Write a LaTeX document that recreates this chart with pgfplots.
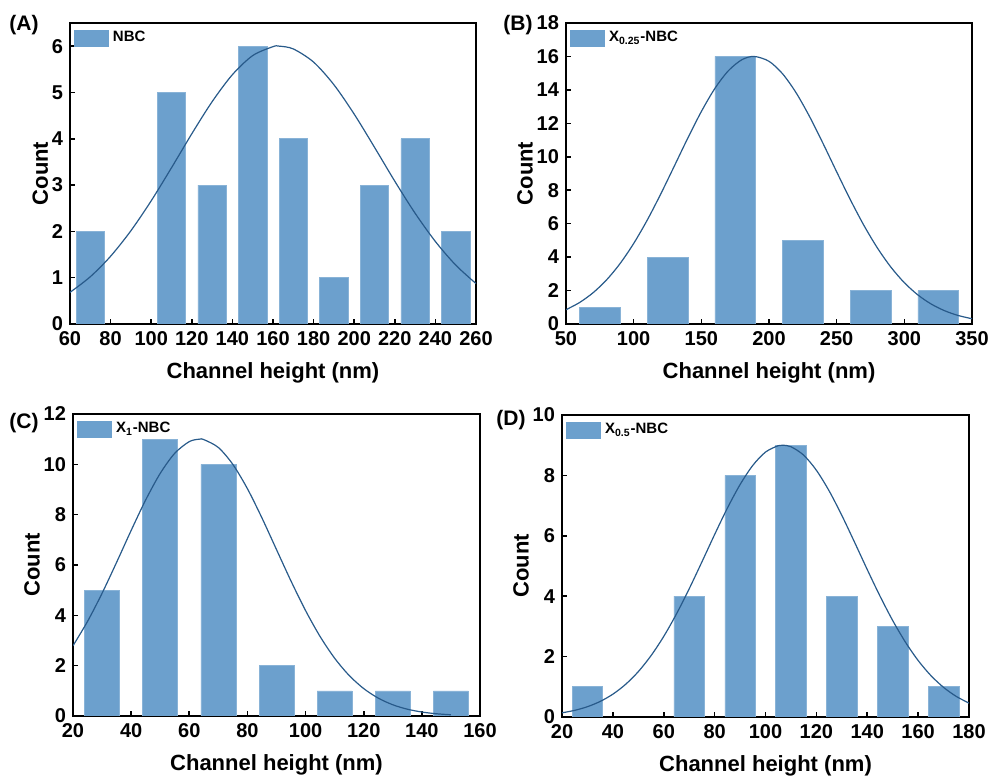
\documentclass[border=0pt]{standalone}
\usepackage{fontspec}
\setmainfont{Liberation Sans}
\usepackage{pgfplots}
\pgfplotsset{compat=1.18}

\definecolor{barblue}{RGB}{108,160,205}
\definecolor{fitblue}{RGB}{40,90,138}

\pgfplotsset{
  hist/.style={
    scale only axis,
    axis line style={line width=1pt},
    tick align=inside,
    xtick pos=bottom, ytick pos=left,
    major tick length=2.5pt,
    tick style={line width=0.8pt, black},
    ymin=0,
    /pgf/number format/assume math mode=true,
    tick label style={font=\fontsize{10}{12}\selectfont\bfseries},
    label style={font=\fontsize{11}{13}\selectfont\bfseries},
    xlabel={Channel height (nm)},
    ylabel={Count},
    xlabel shift=2pt,
    ylabel shift=-5pt,
    legend style={at={(rel axis cs:0,1)}, anchor=north west, draw=none, fill=none,
      font=\fontsize{7.5}{9}\selectfont\bfseries, inner sep=1pt, xshift=1pt, yshift=-1pt},
    legend cell align=left,
    legend image code/.code={\fill[barblue] (0pt,-4pt) rectangle (17pt,4pt);},
  },
  bars/.style={ybar, bar shift=0pt, fill=barblue, draw=barblue!80!white, line width=0.3pt},
  fit/.style={fitblue, line width=0.6pt, smooth, no markers},
}

\begin{document}
\begin{tikzpicture}
\path[use as bounding box] (0,0) rectangle (496pt,-389.5pt);

% (A)
\begin{axis}[hist, at={(35pt,-162pt)}, anchor=south west, width=203pt, height=150.5pt,
  xmin=60, xmax=260, ymax=6.5, xtick={60,80,...,260}, ytick={0,1,...,6}]
\addplot[bars, bar width=14] coordinates {(70,2)(110,5)(130,3)(150,6)(170,4)(190,1)(210,3)(230,4)(250,2)};
\addlegendentry{NBC}
\addplot[fit, forget plot] coordinates {
(60,0.683)(70,1.020)(80,1.463)(90,2.014)(100,2.660)(110,3.374)(120,4.108)(130,4.800)
(140,5.384)(150,5.796)(160,5.989)(163,6.0)(170,5.940)(180,5.655)(190,5.167)(200,4.532)
(210,3.816)(220,3.083)(230,2.392)(240,1.781)(250,1.273)(260,0.873)};
\end{axis}

% (B)
\begin{axis}[hist, at={(283pt,-162pt)}, anchor=south west, width=203pt, height=150.5pt,
  xmin=50, xmax=350, ymax=18, xtick={50,100,...,350}, ytick={0,2,...,18}]
\addplot[bars, bar width=30] coordinates {(75,1)(125,4)(175,16)(225,5)(275,2)(325,2)};
\addlegendentry{X\textsubscript{0.25}-NBC}
\addplot[fit, forget plot] coordinates {
(50,0.854)(60,1.283)(70,1.869)(80,2.640)(90,3.619)(100,4.814)(110,6.209)(120,7.773)
(130,9.437)(140,11.117)(150,12.704)(160,14.085)(170,15.147)(180,15.805)(189,16.0)
(200,15.709)(210,14.965)(220,13.830)(230,12.400)(240,10.784)(250,9.099)(260,7.449)
(270,5.915)(280,4.558)(290,3.407)(300,2.470)(310,1.738)(320,1.186)(330,0.785)
(340,0.504)(350,0.314)};
\end{axis}

% (C)
\begin{axis}[hist, at={(36.5pt,-358pt)}, anchor=south west, width=203.5pt, height=151pt,
  xmin=20, xmax=160, ymax=12, xtick={20,40,...,160}, ytick={0,2,...,12}]
\addplot[bars, bar width=12] coordinates {(30,5)(50,11)(70,10)(90,2)(110,1)(130,1)(150,1)};
\addlegendentry{X\textsubscript{1}-NBC}
\addplot[fit, forget plot] coordinates {
(20,2.792)(25,3.758)(30,4.877)(35,6.106)(40,7.372)(45,8.584)(50,9.640)(55,10.439)
(60,10.903)(63.5,11.0)(65,10.982)(70,10.669)(75,9.994)(80,9.031)(85,7.868)(90,6.612)
(95,5.360)(100,4.189)(105,3.158)(110,2.296)(115,1.610)(120,1.089)(125,0.710)
(130,0.446)(135,0.270)(140,0.158)(145,0.089)(150,0.049)};
\end{axis}

% (D)
\begin{axis}[hist, at={(281pt,-358.5pt)}, anchor=south west, width=203.5pt, height=151pt,
  xmin=20, xmax=180, ymax=10, xtick={20,40,...,180}, ytick={0,2,...,10}]
\addplot[bars, bar width=12] coordinates {(30,1)(70,4)(90,8)(110,9)(130,4)(150,3)(170,1)};
\addlegendentry{X\textsubscript{0.5}-NBC}
\addplot[fit, forget plot] coordinates {
(20,0.138)(25,0.220)(30,0.341)(35,0.515)(40,0.756)(45,1.081)(50,1.502)(55,2.031)
(60,2.669)(65,3.413)(70,4.245)(75,5.135)(80,6.042)(85,6.914)(90,7.695)(95,8.331)
(100,8.772)(105,8.984)(106.8,9.0)(110,8.949)(115,8.671)(120,8.170)(125,7.489)
(130,6.676)(135,5.789)(140,4.882)(145,4.005)(150,3.195)(155,2.480)(160,1.871)
(165,1.373)(170,0.981)(175,0.681)(180,0.460)};
\end{axis}

\begin{scope}[every node/.style={font=\fontsize{10.5}{12}\selectfont\bfseries}]
\node at (12pt,-12.5pt) {(A)};
\node at (259pt,-12.5pt) {(B)};
\node at (12pt,-211.5pt) {(C)};
\node at (255.5pt,-210pt) {(D)};
\end{scope}
\end{tikzpicture}
\end{document}
